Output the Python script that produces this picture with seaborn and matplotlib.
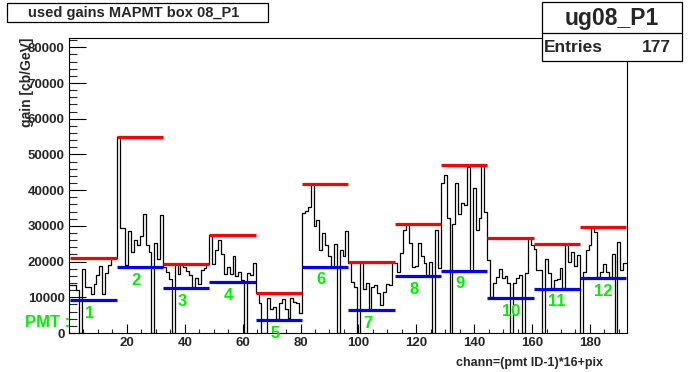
import numpy as np
import pandas as pd
import matplotlib
matplotlib.use("Agg")
import matplotlib.pyplot as plt
import seaborn as sns
from matplotlib.patches import Rectangle
from matplotlib.ticker import MultipleLocator

# ---- data (gain per channel, 16 pixels per PMT) ----
pmt01 = [13400, 13400, 12000, 0, 17800, 13000, 13000, 11000, 13600, 16200, 18800, 10900, 16700, 19000, 20600, 21100]
pmt02 = [55000, 29500, 29500, 19000, 28600, 22800, 26000, 24600, 27200, 33200, 24600, 22800, 0, 25300, 20600, 33000]
pmt03 = [18600, 17200, 15000, 0, 19300, 16500, 19000, 18600, 17400, 16200, 13000, 15500, 13700, 17600, 18100, 19300]
pmt04 = [27400, 19300, 23300, 26000, 22000, 16500, 18600, 16500, 21600, 16000, 17000, 14800, 0, 16700, 16200, 19500]
pmt05 = [11100, 8500, 0, 0, 9700, 6600, 7400, 3800, 8500, 9400, 6600, 4100, 9700, 8800, 8500, 5700]
pmt06 = [33500, 34300, 35400, 41800, 29900, 31600, 23300, 27900, 24700, 21600, 18600, 24800, 0, 23300, 21600, 28700]
pmt07 = [19500, 14300, 12900, 0, 19500, 12200, 13900, 6600, 12900, 13400, 11300, 7800, 11400, 13600, 13400, 19500]
pmt08 = [19500, 17200, 22500, 28900, 30300, 25100, 18600, 18900, 25100, 21700, 19500, 16200, 19900, 0, 28900, 18100]
pmt09 = [41900, 44300, 32300, 0, 30500, 41900, 33300, 36300, 35800, 46400, 17500, 40500, 28900, 32200, 46900, 34000]
pmt10 = [20400, 10200, 13900, 15800, 17800, 15300, 16000, 13900, 0, 13900, 15300, 16300, 0, 16900, 26500, 24700]
pmt11 = [23500, 17600, 17600, 0, 20600, 16700, 12500, 14800, 15000, 18100, 12500, 24700, 20000, 22600, 18900, 21800]
pmt12 = [0, 17200, 23300, 24700, 29600, 28200, 15600, 17000, 19300, 17000, 15800, 22000, 0, 25400, 17600, 19500]

red_max = [21100, 55000, 19330, 27450, 11300, 41830, 19890, 30620, 47150, 26600, 24930, 29690]
blue_min = [9240, 18570, 12700, 14290, 3640, 18580, 6540, 16060, 17460, 9900, 12420, 15500]
pmt_ids = [1, 2, 3, 4, 5, 6, 7, 8, 9, 10, 11, 12]

title = "used gains MAPMT box 08_P1"
stats_name = "ug08_P1"
entries = 177
xlabel = "chann=(pmt ID-1)*16+pix"
ylabel = "gain [cb/GeV]"

# ---- build table ----
gains = pmt01 + pmt02 + pmt03 + pmt04 + pmt05 + pmt06 + pmt07 + pmt08 + pmt09 + pmt10 + pmt11 + pmt12
df = pd.DataFrame({"chan": np.arange(1, len(gains) + 1), "gain": gains})
npix = 16
pmt = pd.DataFrame({"id": pmt_ids, "max": red_max, "min": blue_min})
pmt["start"] = (pmt["id"] - 1) * npix + 0.5
pmt["end"] = pmt["id"] * npix + 0.5

sns.set_style("ticks")
plt.rcParams["font.family"] = ["Liberation Sans", "DejaVu Sans"]
plt.rcParams["font.weight"] = "bold"
plt.rcParams["axes.labelweight"] = "bold"

W, H = 696, 372
fig = plt.figure(figsize=(W / 100, H / 100), dpi=100)
fig.patch.set_facecolor("white")
ax = fig.add_axes([69 / W, 1 - 333 / H, (627 - 69) / W, (333 - 38) / H])
ax.set_facecolor("white")

edges = [float(e) for e in np.arange(0.5, len(gains) + 1.5, 1)]
sns.histplot(data=df, x="chan", weights="gain", bins=edges, element="step",
             fill=False, color="black", linewidth=0.9, ax=ax)

ax.hlines(pmt["max"], pmt["start"], pmt["end"], colors="#ff0000", linewidth=2.3, zorder=4)
ax.hlines(pmt["min"], pmt["start"], pmt["end"], colors="#0000ff", linewidth=2.3, zorder=4)

green = "#00f000"
for _, r in pmt.iterrows():
    ax.text(r["start"] + 5.0, r["min"] - 5000, str(int(r["id"])), color=green,
            fontsize=12, fontweight="bold", ha="left", va="baseline",
            clip_on=False, zorder=5)

ax.set_xlim(0, 192.8)
ax.set_ylim(0, 82600)
ax.xaxis.set_major_locator(MultipleLocator(20))
ax.xaxis.set_minor_locator(MultipleLocator(5))
ax.yaxis.set_major_locator(MultipleLocator(10000))
ax.yaxis.set_minor_locator(MultipleLocator(2000))
ax.set_xticks([20, 40, 60, 80, 100, 120, 140, 160, 180])
ax.tick_params(axis="x", which="major", direction="in", length=6.4, width=0.8,
               labelsize=9.5, pad=3, top=False, color="black")
ax.tick_params(axis="x", which="minor", direction="in", length=3.2, width=0.8, top=False)
ax.tick_params(axis="y", which="major", direction="in", length=12, width=0.8,
               labelsize=9.5, pad=3, right=False, color="black")
ax.tick_params(axis="y", which="minor", direction="in", length=6, width=0.8, right=False)
for lbl in ax.get_xticklabels() + ax.get_yticklabels():
    lbl.set_fontweight("bold")
ax.set_xlabel("")
ax.set_ylabel("")
for s in ax.spines.values():
    s.set_visible(True)
    s.set_color("black")
    s.set_linewidth(0.8)
ax.grid(False)

# axis titles
fig.text(603 / W, 1 - 363 / H, xlabel, ha="right", va="center", fontsize=9,
         fontweight="bold")
fig.text(27 / W, 1 - 38 / H, ylabel, rotation=90, ha="center", va="top",
         fontsize=10, fontweight="bold", zorder=6)
fig.text(25 / W, 1 - 327 / H, "PMT :", ha="left", va="baseline", fontsize=12,
         fontweight="bold", color=green)

# title box
fig.add_artist(Rectangle((7 / W, 1 - 22 / H), (268 - 7) / W, (22 - 3) / H,
                         transform=fig.transFigure, facecolor="white",
                         edgecolor="black", linewidth=0.9, zorder=10))
fig.text(134 / W, 1 - 12.5 / H, title, ha="center", va="center", fontsize=10.5,
         fontweight="bold", zorder=11)

# stats box
fig.add_artist(Rectangle((542 / W, 1 - 61 / H), (682 - 542) / W, (61 - 2) / H,
                         transform=fig.transFigure, facecolor="white",
                         edgecolor="black", linewidth=0.9, zorder=10))
fig.add_artist(plt.Line2D([542 / W, 682 / W], [1 - 33 / H, 1 - 33 / H],
                          transform=fig.transFigure, color="black",
                          linewidth=0.9, zorder=11))
fig.text(612 / W, 1 - 18 / H, stats_name, ha="center", va="center", fontsize=16.5,
         fontweight="bold", zorder=12)
fig.text(544 / W, 1 - 47 / H, "Entries", ha="left", va="center", fontsize=12.5,
         fontweight="bold", zorder=12)
fig.text(671 / W, 1 - 47 / H, str(entries), ha="right", va="center", fontsize=12.5,
         fontweight="bold", zorder=12)

fig.savefig("out.png", dpi=100, facecolor="white")
